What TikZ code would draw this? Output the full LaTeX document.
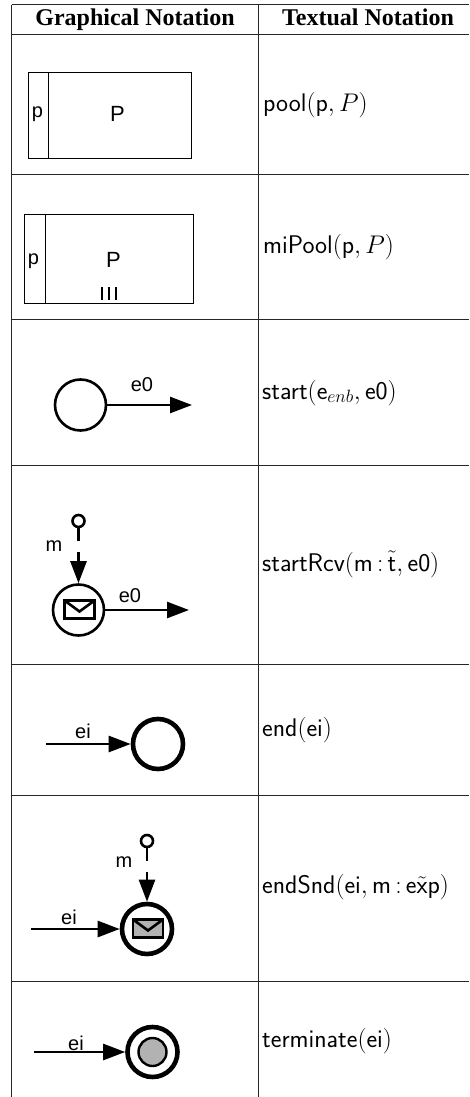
\documentclass[tikz,border=0pt]{standalone}
\usepackage{fix-cm}
\usepackage{fontspec}
\setmainfont{Liberation Serif}
\newfontfamily\lblfont{Liberation Sans}
\usetikzlibrary{arrows.meta,calc}
\tikzset{
  grid/.style={line width=1pt,black!85},
  head/.style={font=\bfseries\fontsize{24}{26}\selectfont,anchor=base,inner sep=0},
  txt/.style={font=\sffamily\fontsize{25.5}{28}\selectfont,anchor=base west,inner sep=0},
  lbl/.style={font=\lblfont\fontsize{20}{22}\selectfont,inner sep=0},
  bigl/.style={font=\lblfont\fontsize{22}{24}\selectfont,inner sep=0},
  pbox/.style={draw,line width=1pt,inner sep=0,anchor=north west},
  ev/.style={draw,circle,inner sep=0,fill=white},
  thin ev/.style={ev,minimum size=51pt,line width=2.6pt},
  thick ev/.style={ev,minimum size=50pt,line width=4.6pt},
  flow/.style={line width=2.6pt,-{Triangle[length=22pt,width=16pt]}},
  msg/.style={flow,dash pattern=on 13pt off 11pt on 200pt},
  port/.style={draw,circle,inner sep=0,minimum size=12pt,line width=2.6pt,fill=white},
  envelope/.style={draw,line width=2.8pt,inner sep=0,minimum width=30pt,minimum height=18pt,anchor=center},
}
\newcommand{\envflap}[1]{\draw[line width=2.6pt] ($(#1)+(-15,-9)$) -- ($(#1)+(0,2)$) -- ($(#1)+(15,-9)$);}
\begin{document}
\begin{tikzpicture}[x=1pt,y=-1pt]
\useasboundingbox (0,0) rectangle (469,1097);
% table
\draw[grid] (11.5,5) -- (469,5);
\foreach \yy in {35,174.5,319,465.5,664.5,795,981} \draw[grid] (11.5,\yy) -- (469,\yy);
\draw[grid] (11.5,5) -- (11.5,1097);
\draw[grid] (258.5,5) -- (258.5,1097);
% header
\node[head] (h1) at (135,25.5) {Graphical Notation};
\node[head] (h2) at (368,25.5) {Textual Notation};
% text column
\node[txt] (t1) at (263,112) {pool$(\mathsf{p},P)$};
\node[txt] (t2) at (263,253) {miPool$(\mathsf{p},P)$};
\node[txt] (t3) at (262,399) {start$(\mathsf{e}_{enb},\mathsf{e0})$};
\node[txt] (t4) at (262,571) {startRcv$(\mathsf{m}\,\mathsf{:}\,\tilde{\mathsf{t}},\mathsf{e0})$};
\node[txt] (t5) at (262,736) {end$(\mathsf{ei})$};
\node[txt] (t6) at (262,893) {endSnd$(\mathsf{ei},\mathsf{m}\,\mathsf{:}\,\mathsf{e}\tilde{\mathsf{x}}\mathsf{p})$};
\node[txt] (t7) at (262,1047) {terminate$(\mathsf{ei})$};
% pool
\node[pbox,minimum width=163pt,minimum height=85.5pt] (pool) at (27.5,72.5) {};
\node[pbox,minimum width=20pt,minimum height=85.5pt] (poolband) at (27.5,72.5) {};
\node[lbl] (poolp) at (37.5,114) {p};
\node[bigl] (poolP) at (117.5,114) {P};
% miPool
\node[pbox,minimum width=169pt,minimum height=88.5pt] (mi) at (24,214) {};
\node[pbox,minimum width=20.5pt,minimum height=88.5pt] (miband) at (24,214) {};
\node[lbl] (mip) at (33.5,261) {p};
\node[bigl] (miP) at (113.5,259.5) {P};
\draw[line width=1.6pt] (102,287) -- (102,300) (109,287) -- (109,300) (116,287) -- (116,300);
% start
\node[thin ev] (s) at (80.5,405) {};
\coordinate (sx) at (192,405);
\draw[flow] (s.east) -- (sx);
\node[lbl] (se) at (142,385) {e0};
% startRcv
\node[port] (rp) at (78.5,521) {};
\node[thin ev] (r) at (78.5,610) {};
\coordinate (rx) at (189,610);
\draw[msg] (rp.south) -- (r.north);
\draw[flow] (r.east) -- (rx);
\node[lbl] (rm) at (54,546) {m};
\node[lbl] (re) at (130,596) {e0};
\node[envelope,fill=white] (renv) at (79.5,609.5) {};
\envflap{renv.center}
% end
\coordinate (ex) at (46,744);
\node[thick ev] (e) at (158,744) {};
\draw[flow] (ex) -- (e.west);
\node[lbl] (ee) at (83,731) {ei};
% endSnd
\node[port] (np) at (147,841) {};
\node[thick ev] (n) at (147,929) {};
\coordinate (nx) at (31,929);
\draw[msg] (np.south) -- (n.north);
\draw[flow] (nx) -- (n.west);
\node[lbl] (nm) at (124,862) {m};
\node[lbl] (ne) at (69,917) {ei};
\node[envelope,fill=black!30] (nenv) at (148,928.5) {};
\envflap{nenv.center}
% terminate
\node[thick ev] (x) at (152.5,1052) {};
\node[draw,circle,inner sep=0,minimum size=28pt,line width=2.4pt,fill=black!30] (xi) at (152.5,1052) {};
\coordinate (xx) at (34,1052);
\draw[flow] (xx) -- (x.west);
\node[lbl] (xe) at (76,1043) {ei};
\end{tikzpicture}
\end{document}
